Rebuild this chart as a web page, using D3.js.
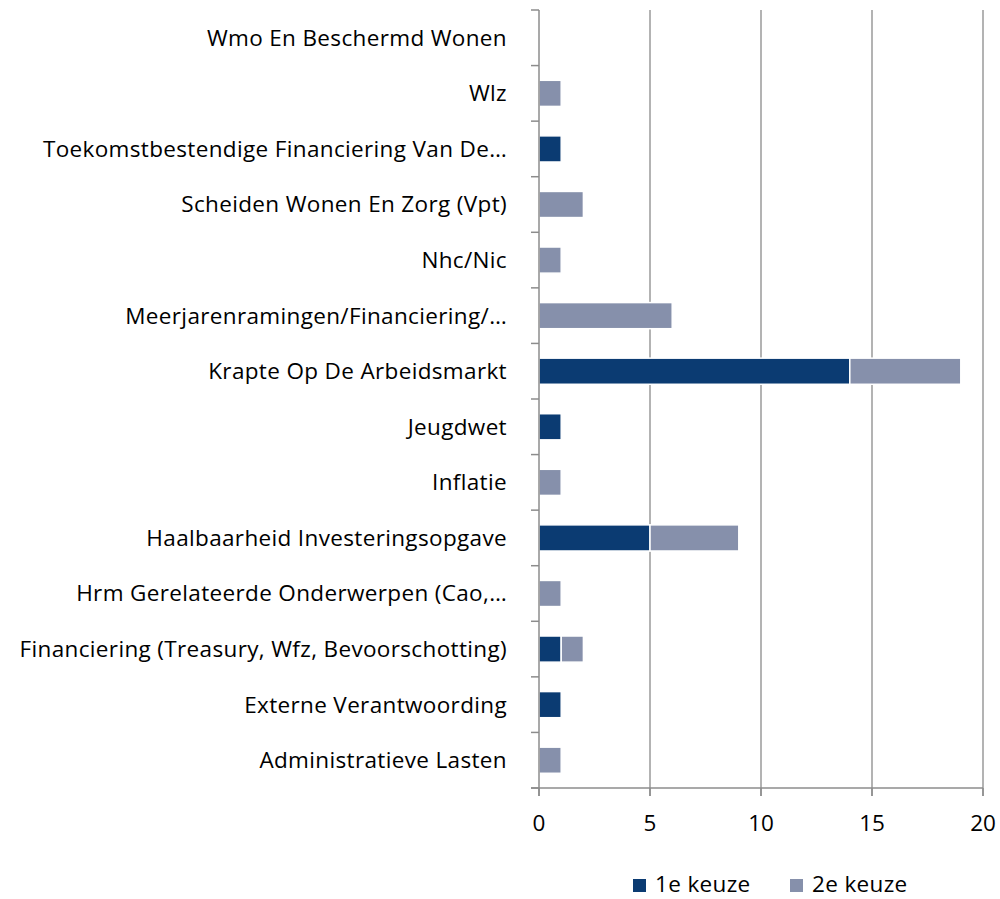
<!DOCTYPE html>
<html><head><meta charset="utf-8">
<script src="https://cdn.jsdelivr.net/npm/d3@7"></script>
<style>body{margin:0;background:#fff}svg{display:block}</style>
</head><body><svg id="c" width="1000" height="899"></svg>
<script>
const categories = ["Wmo En Beschermd Wonen","Wlz","Toekomstbestendige Financiering Van De…","Scheiden Wonen En Zorg (Vpt)","Nhc/Nic","Meerjarenramingen/Financiering/…","Krapte Op De Arbeidsmarkt","Jeugdwet","Inflatie","Haalbaarheid Investeringsopgave","Hrm Gerelateerde Onderwerpen (Cao,…","Financiering (Treasury, Wfz, Bevoorschotting)","Externe Verantwoording","Administratieve Lasten"];
const eerste = [0,0,1,0,0,0,14,1,0,5,0,1,1,0];
const tweede = [0,1,0,2,1,6,5,0,1,4,1,1,0,1];
const seriesNames = ["1e keuze","2e keuze"];
const xTicks = [0,5,10,15,20];
const colors = ["#0B3B72","#8690AB"];

const svg = d3.select("#c");
const font = "'Open Sans', sans-serif";
const fs = 22.5;
const ls = 0.35;
const L = 539, R = 983, T = 10, B = 788;
const x = d3.scaleLinear().domain([0,20]).range([L,R]);
const y = d3.scaleBand().domain(categories).range([T,B]).paddingInner(0.53).paddingOuter(0.265);
const yb = d3.scaleBand().domain(categories).range([T,B]);

// gridlines
svg.append("g").selectAll("line").data(xTicks.slice(1)).join("line")
  .attr("x1",d=>x(d)).attr("x2",d=>x(d)).attr("y1",T).attr("y2",B+8)
  .attr("stroke","#9A9A9A").attr("stroke-width",1.5);

const rows = categories.map((c,i)=>({c, v:[eerste[i],tweede[i]]}));
const stack = d3.stack().keys([0,1]).value((d,k)=>d.v[k]);
const layers = stack(rows);
svg.append("g").selectAll("g").data(layers).join("g").attr("fill",(d,i)=>colors[i])
  .selectAll("rect").data(d=>d.filter(s=>s[1]>s[0])).join("rect")
  .attr("x",d=>x(d[0])).attr("width",d=>x(d[1])-x(d[0]))
  .attr("y",d=>y(d.data.c)).attr("height",y.bandwidth())
  .attr("stroke","#fff").attr("stroke-width",1.5);

// left axis
svg.append("line").attr("x1",L).attr("x2",L).attr("y1",T).attr("y2",B+8).attr("stroke","#8C8C8C").attr("stroke-width",1.5);
const bounds = categories.map(c=>yb(c)).concat([B]);
svg.append("g").selectAll("line").data(bounds).join("line")
  .attr("x1",L-8).attr("x2",L).attr("y1",d=>d).attr("y2",d=>d).attr("stroke","#8C8C8C").attr("stroke-width",1.5);
svg.append("g").selectAll("text").data(categories).join("text")
  .attr("x",507).attr("y",d=>yb(d)+yb.bandwidth()/2).attr("dy","0.35em")
  .attr("text-anchor","end").attr("font-family",font).attr("font-size",fs).attr("letter-spacing",ls)
  .attr("fill","#000").text(d=>d);

// bottom axis
svg.append("line").attr("x1",L-8).attr("x2",R).attr("y1",B).attr("y2",B).attr("stroke","#8C8C8C").attr("stroke-width",1.5);
svg.append("g").selectAll("line").data(xTicks).join("line")
  .attr("x1",d=>x(d)).attr("x2",d=>x(d)).attr("y1",B).attr("y2",B+8).attr("stroke","#8C8C8C").attr("stroke-width",1.5);
svg.append("g").selectAll("text").data(xTicks).join("text")
  .attr("x",d=>x(d)).attr("y",823).attr("dy","0.35em").attr("text-anchor","middle")
  .attr("font-family",font).attr("font-size",fs).attr("fill","#000").text(d=>d);

// legend
const lg = [{n:seriesNames[0],x:633},{n:seriesNames[1],x:790}];
const leg = svg.append("g").selectAll("g").data(lg).join("g");
leg.append("rect").attr("x",d=>d.x).attr("y",879).attr("width",13).attr("height",13).attr("fill",(d,i)=>colors[i]);
leg.append("text").attr("x",d=>d.x+22).attr("y",884).attr("dy","0.35em")
  .attr("font-family",font).attr("font-size",fs).attr("letter-spacing",ls).attr("fill","#000").text(d=>d.n);
</script></body></html>
